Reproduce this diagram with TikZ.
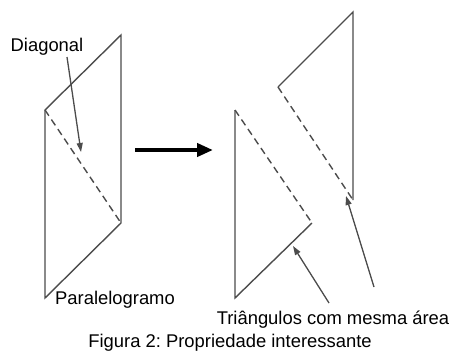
\documentclass[tikz,border=0pt]{standalone}
\usepackage{fontspec}
\setmainfont{Liberation Sans}
\usetikzlibrary{arrows.meta}
\frenchspacing
\begin{document}
\begin{tikzpicture}[x=1pt,y=-1pt,
  edge/.style={draw=black!70,line width=1.4pt,line join=miter},
  diag/.style={draw=black!70,line width=1.4pt,dash pattern=on 7pt off 4.5pt},
  pointer/.style={draw=black!70,line width=1.3pt,-{Triangle[length=9pt,width=6pt]}},
  bigarrow/.style={draw=black,line width=4pt,-{Triangle[length=16pt,width=13pt]}},
  lbl/.style={font=\fontsize{18.4}{22}\selectfont,inner sep=0pt}]
\useasboundingbox (0,0) rectangle (452,356);
% parallelogram
\coordinate (pa) at (45,110);
\coordinate (pb) at (121,35);
\coordinate (pc) at (121,223);
\coordinate (pd) at (45,298);
\draw[edge] (pa) -- (pb) -- (pc) -- (pd) -- cycle;
\draw[diag] (pa) -- (pc);
% two triangles
\coordinate (ta) at (235,110);
\coordinate (tb) at (312,223);
\coordinate (tc) at (235,298);
\draw[edge] (ta) -- (tc) -- (tb);
\draw[diag] (ta) -- (tb);
\coordinate (ua) at (278,87);
\coordinate (ub) at (353,12);
\coordinate (uc) at (353,200);
\draw[edge] (ua) -- (ub) -- (uc);
\draw[diag] (ua) -- (uc);
% main arrow
\coordinate (ma) at (135,150);
\coordinate (mb) at (213,150);
\draw[bigarrow] (ma) -- (mb);
% labels
\node[lbl] (ldiag) at (47,47) {Diagonal};
\node[lbl] (lpar) at (115,300) {Paralelogramo};
\node[lbl] (ltri) at (333,320) {Triângulos com mesma área};
\node[lbl] (lfig) at (230,343) {Figura 2: Propriedade interessante};
% pointers
\coordinate (d1) at (67,57);
\coordinate (d2) at (81,152);
\draw[pointer] (d1) -- (d2);
\coordinate (e1) at (329,303);
\coordinate (e2) at (293,246);
\draw[pointer] (e1) -- (e2);
\coordinate (f1) at (374,287);
\coordinate (f2) at (346,196);
\draw[pointer] (f1) -- (f2);
\end{tikzpicture}
\end{document}
